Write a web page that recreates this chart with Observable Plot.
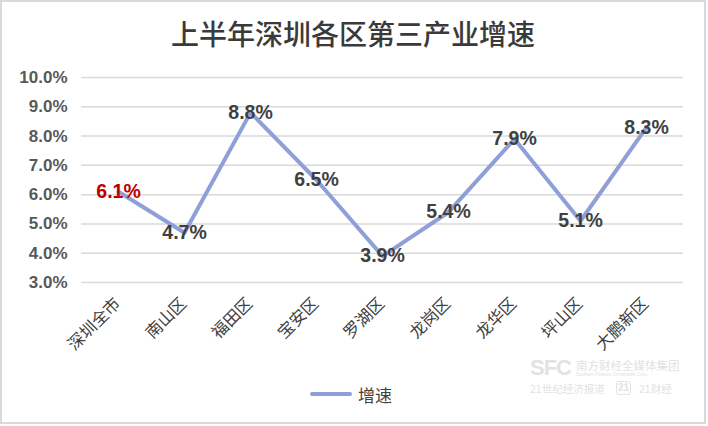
<!DOCTYPE html>
<html>
<head>
<meta charset="utf-8">
<script src="https://cdn.jsdelivr.net/npm/d3@7"></script>
<script src="https://cdn.jsdelivr.net/npm/@observablehq/plot@0.6"></script>
<style>
  html, body { margin: 0; padding: 0; background: #fff; }
  #wrap {
    position: relative; width: 706px; height: 424px; box-sizing: border-box;
    border: 2px solid #d9d9d9; background: #fff; overflow: hidden;
    font-family: "Liberation Sans", "Noto Sans CJK SC", sans-serif;
  }
  #title {
    position: absolute; left: 0; top: 16px; width: 100%; text-align: center;
    font-family: "Noto Sans CJK SC", sans-serif; font-size: 28px; line-height: 30px;
    font-weight: 500; color: #3a3a3a;
  }
  #chart { position: absolute; left: 0; top: 60px; }
  #legend {
    position: absolute; left: 308px; top: 380px; height: 24px;
    display: flex; align-items: center; gap: 6px;
    font-family: "Noto Sans CJK SC", sans-serif; font-size: 17px; color: #404040;
  }
  #legend .sw { width: 42px; height: 4px; border-radius: 2px; background: #8fa0d8; }
  .wm { position: absolute; color: #e2e2e2; white-space: nowrap; font-family: "Noto Sans CJK SC", sans-serif; }
  .sfc { font-family: "Liberation Sans", sans-serif; font-weight: bold; font-size: 22px; line-height: 18px; letter-spacing: -1px; }
  .cn { font-size: 11.5px; line-height: 12px; }
  .cn2 { font-size: 10.5px; line-height: 11px; }
  .en { font-family: "Liberation Sans", sans-serif; font-size: 4.5px; line-height: 5px; }
  .box { border: 1.5px solid #e2e2e2; border-radius: 3px; padding: 0 1px; font-family: "Liberation Sans", sans-serif; font-weight: bold; font-size: 10px; line-height: 12px; }
</style>
</head>
<body>
<div id="wrap">
  <div id="title">上半年深圳各区第三产业增速</div>
  <div id="chart"></div>
  <div id="legend"><span class="sw"></span><span>增速</span></div>
  <div class="wm sfc" style="left:528px; top:357px;">SFC</div>
  <div class="wm cn" style="left:574px; top:357px;">南方财经全媒体集团</div>
  <div class="wm en" style="left:574px; top:370px;">Southern Finance Omnimedia Corp.</div>
  <div class="wm cn2" style="left:528px; top:381px;">21世纪经济报道</div>
  <div class="wm box" style="left:614px; top:379px;">21</div>
  <div class="wm cn2" style="left:637px; top:381px;">21财经</div>
</div>
<script>
const categories = ["深圳全市", "南山区", "福田区", "宝安区", "罗湖区", "龙岗区", "龙华区", "坪山区", "大鹏新区"];
const growth = [6.1, 4.7, 8.8, 6.5, 3.9, 5.4, 7.9, 5.1, 8.3];
const yTicks = [3, 4, 5, 6, 7, 8, 9, 10];

const data = categories.map((c, i) => ({cat: c, v: growth[i]}));
const lineColor = "#8fa0d8";

const chart = Plot.plot({
  width: 702,
  height: 300,
  marginLeft: 79,
  marginRight: 21,
  marginTop: 15,
  marginBottom: 80,
  style: {fontFamily: "'Liberation Sans', 'Noto Sans CJK SC', sans-serif", background: "transparent"},
  x: {type: "point", domain: categories, padding: 0.5, axis: null},
  y: {domain: [3, 10], axis: null},
  marks: [
    Plot.gridY(yTicks, {stroke: "#d9d9d9", strokeOpacity: 1, strokeWidth: 1.5}),
    Plot.axisY(yTicks, {tickSize: 0, tickPadding: 14, tickFormat: d => d.toFixed(1) + "%", fontSize: 17, fontWeight: "bold", fill: "#595959", label: null}),
    Plot.line(data, {x: "cat", y: "v", stroke: lineColor, strokeWidth: 4}),
    Plot.text(data, {x: "cat", y: "v", text: d => d.v.toFixed(1) + "%", fill: d => d.cat === "深圳全市" ? "#c00000" : "#404040", fontSize: 19.5, fontWeight: "bold"}),
    Plot.text(categories, {x: d => d, frameAnchor: "bottom", rotate: -45, textAnchor: "end", dx: 3, dy: 22, fontSize: 16.5, fill: "#404040", fontFamily: "'Noto Sans CJK SC', sans-serif"})
  ]
});
document.getElementById("chart").appendChild(chart);
</script>
</body>
</html>
